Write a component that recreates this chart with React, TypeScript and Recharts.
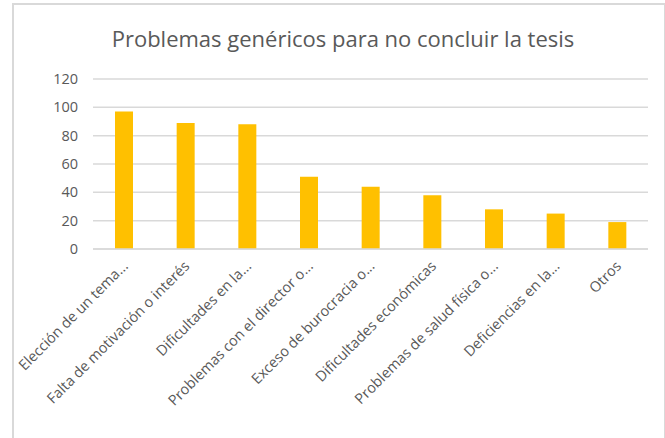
import { BarChart, Bar, XAxis, YAxis, CartesianGrid } from 'recharts';

// Datos
const categorias = [
  'Elección de un tema...',
  'Falta de motivación o interés',
  'Dificultades en la...',
  'Problemas con el director o...',
  'Exceso de burocracia o...',
  'Dificultades económicas',
  'Problemas de salud física o...',
  'Deficiencias en la...',
  'Otros',
];
const valores = [97, 89, 88, 51, 44, 38, 28, 25, 19];
const ticksY = [0, 20, 40, 60, 80, 100, 120];

const data = categorias.map((name, i) => ({ name, valor: valores[i] }));

const FONT = '"Open Sans", sans-serif';
const GRIS = '#595959';

// etiqueta rotada del eje X, anclada por el final
const TickRotado = (props: any) => {
  const { x, y, payload } = props;
  return (
    <text
      x={x + 5}
      y={y + 10}
      transform={`rotate(-45, ${x + 5}, ${y + 10})`}
      textAnchor="end"
      fill={GRIS}
      fontSize={14.5}
      fontFamily={FONT}
    >
      {payload.value}
    </text>
  );
};

export default function App() {
  return (
    <div style={{ position: 'absolute', left: 0, top: 0, width: 665, height: 438, background: '#fff' }}>
      <div
        style={{
          position: 'absolute',
          left: 12,
          top: 3,
          width: 654,
          height: 450,
          border: '2.5px solid #d9d9d9',
          boxSizing: 'border-box',
        }}
      />
      <div
        style={{
          position: 'absolute',
          left: 0,
          width: 686,
          top: 23,
          textAlign: 'center',
          fontFamily: FONT,
          fontSize: 22,
          color: GRIS,
          whiteSpace: 'nowrap',
        }}
      >
        Problemas genéricos para no concluir la tesis
      </div>
      <div style={{ position: 'absolute', left: 0, top: 0 }}>
        <BarChart
          width={665}
          height={438}
          data={data}
          margin={{ top: 79, right: 17, left: 0, bottom: 0 }}
        >
          <CartesianGrid vertical={false} stroke="#d9d9d9" strokeWidth={1.5} />
          <XAxis
            dataKey="name"
            interval={0}
            height={189}
            axisLine={{ stroke: '#d9d9d9', strokeWidth: 1.5 }}
            tickLine={false}
            tick={<TickRotado />}
          />
          <YAxis
            width={93}
            domain={[0, 120]}
            ticks={ticksY}
            axisLine={false}
            tickLine={false}
            tickMargin={9}
            tick={{ fill: GRIS, fontSize: 14.5, fontFamily: FONT }}
          />
          <Bar dataKey="valor" fill="#FFC000" barSize={18} isAnimationActive={false} />
        </BarChart>
      </div>
    </div>
  );
}
